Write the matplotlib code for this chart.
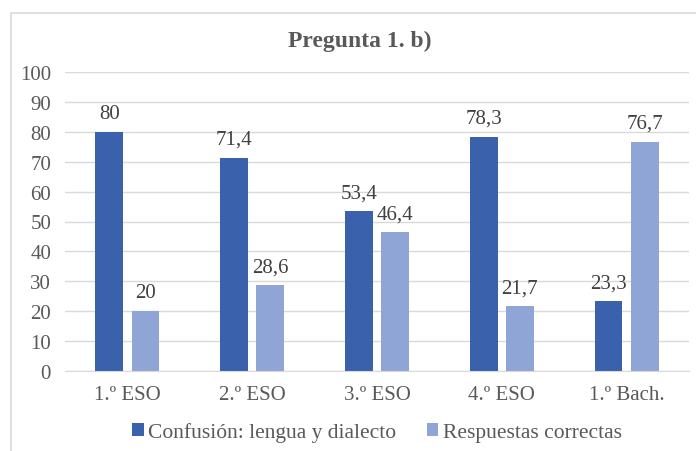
import numpy as np
import matplotlib.pyplot as plt
from matplotlib.patches import Rectangle

categories = ["1.º ESO", "2.º ESO", "3.º ESO", "4.º ESO", "1.º Bach."]
confusion = [80, 71.4, 53.4, 78.3, 23.3]
correctas = [20, 28.6, 46.4, 21.7, 76.7]
series_names = ["Confusión: lengua y dialecto", "Respuestas correctas"]

dark = "#3A62AC"
light = "#8FA5D6"
grey = "#595959"

plt.rcParams["font.family"] = ["Liberation Serif", "DejaVu Serif"]

fig = plt.figure(figsize=(6.96, 4.52), dpi=100)
ax = fig.add_axes([65 / 696, 1 - 372 / 452, 624 / 696, 299 / 452])

# outer chart border
fig.patches.append(Rectangle((11 / 696, -0.1), 1.2, 1 - 14 / 452 + 0.1,
                             transform=fig.transFigure, fill=False,
                             edgecolor="#d9d9d9", linewidth=1.2))

x = np.arange(len(categories))
w = 0.224
off = 0.145
b1 = ax.bar(x - off, confusion, w, color=dark, label=series_names[0])
b2 = ax.bar(x + off, correctas, w, color=light, label=series_names[1])


def fmt(v):
    return f"{v:g}".replace(".", ",")


for bars, vals in ((b1, confusion), (b2, correctas)):
    for rect, v in zip(bars, vals):
        ax.text(rect.get_x() + rect.get_width() / 2, v + 3, fmt(v),
                ha="center", va="bottom", fontsize=15, color="#404040")

ax.set_xlim(-0.5, len(categories) - 0.5)
ax.set_ylim(0, 100)
ax.set_yticks(range(0, 101, 10))
ax.set_xticks(x)
ax.set_xticklabels(categories)
ax.tick_params(axis="both", length=0, labelsize=15, labelcolor=grey)
ax.tick_params(axis="x", pad=10)
ax.tick_params(axis="y", pad=10)
ax.yaxis.grid(True, color="#d9d9d9", linewidth=1)
ax.set_axisbelow(True)
for s in ["top", "right", "left"]:
    ax.spines[s].set_visible(False)
ax.spines["bottom"].set_color("#d9d9d9")

fig.text(360 / 696, 1 - 41 / 452, "Pregunta 1. b)", ha="center", va="center",
         fontsize=17, fontweight="bold", color=grey)

fig.legend(loc="center", bbox_to_anchor=(377 / 696, 1 - 433 / 452), ncol=2,
           frameon=False, fontsize=15.5, handlelength=0.55, handleheight=0.55,
           handletextpad=0.2, columnspacing=1.4, labelcolor=grey)

fig.savefig("out.png", dpi=100)
